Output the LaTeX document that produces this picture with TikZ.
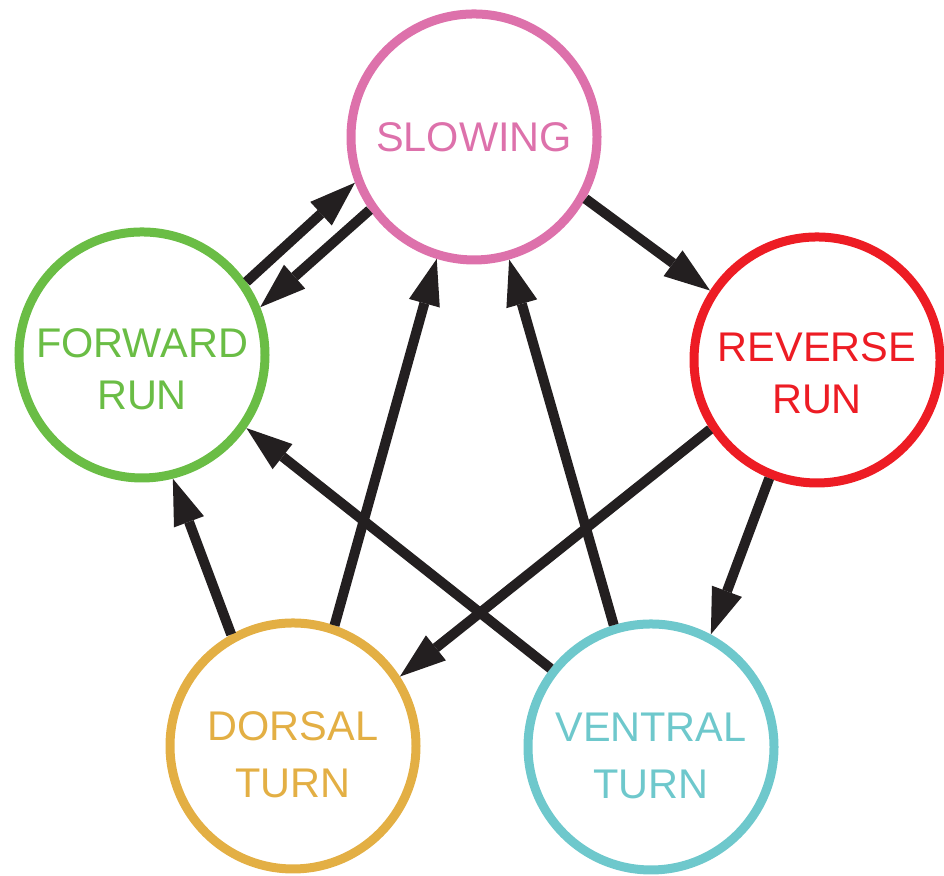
\documentclass[tikz,border=0pt]{standalone}
\usepackage{fontspec}
\setmainfont{Liberation Sans}
\usepackage{xcolor}
\usetikzlibrary{arrows.meta}

\definecolor{slowpink}{RGB}{221,113,171}
\definecolor{fwdgreen}{RGB}{106,189,69}
\definecolor{revred}{RGB}{237,28,36}
\definecolor{dorsgold}{RGB}{227,175,68}
\definecolor{ventteal}{RGB}{110,200,204}
\definecolor{arrowblk}{RGB}{35,31,32}

% lowers a two-line label inside its circle
\newcommand{\lift}[1]{\rule{0pt}{#1}}

\begin{document}
\begin{tikzpicture}[
    state/.style={draw, circle, line width=0.09cm, minimum size=2.46cm, inner sep=0pt, align=center, font=\fontsize{11.8}{14.8}\selectfont},
    arrow/.style={-{Triangle[length=0.46cm, width=0.32cm, line width=0pt]}, line width=0.1cm, draw=arrowblk},
]
\useasboundingbox (0,0) rectangle (9.44,8.76);

% Behavioural states
\node[state, draw=slowpink, text=slowpink] (slow) at (4.74, 7.39) {SLOWING};
\node[state, draw=fwdgreen, text=fwdgreen] (fwd) at (1.42, 5.21) {\lift{0.58cm}FORWARD\\RUN};
\node[state, draw=revred, text=revred] (rev) at (8.17, 5.16) {\lift{0.56cm}REVERSE\\RUN};
\node[state, draw=dorsgold, text=dorsgold] (dors) at (2.93, 1.30) {\lift{0.46cm}DORSAL\\[1.4pt]TURN};
\node[state, draw=ventteal, text=ventteal] (vent) at (6.51, 1.29) {\lift{0.46cm}VENTRAL\\[1.4pt]TURN};

% Transitions
\foreach \a/\b in {fwd.35/slow.201, slow.215/fwd.22, slow.331/rev.147,
                   rev.213/dors.33, rev.248/vent.62, dors.119/fwd.284,
                   dors.71/slow.253, vent.107/slow.286, vent.142/fwd.325} {
    \draw[arrow] (\a) -- (\b);
}

\end{tikzpicture}
\end{document}
